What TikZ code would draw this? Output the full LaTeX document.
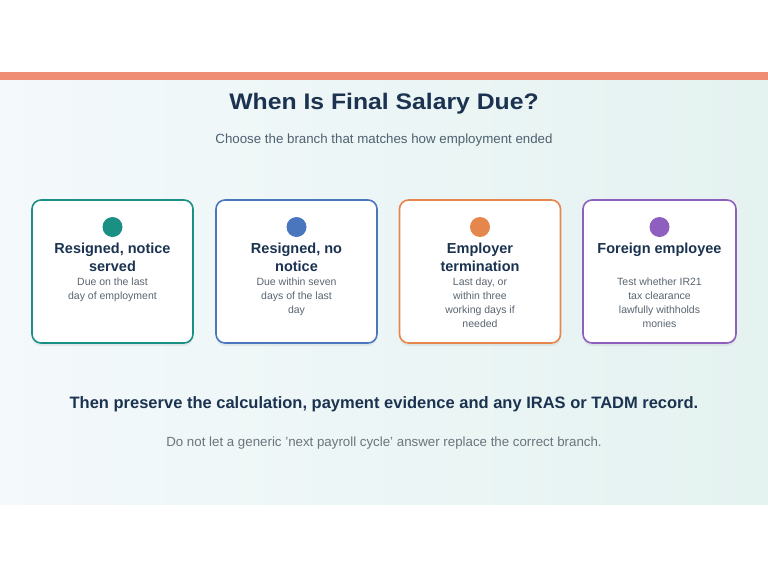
\documentclass[tikz,border=0pt]{standalone}
\usepackage{fontspec}
\setmainfont{Liberation Sans}
\usetikzlibrary{shadows}
\definecolor{navy}{HTML}{1B3350}
\definecolor{greytxt}{HTML}{5A6570}
\definecolor{subtxt}{HTML}{4E6170}
\definecolor{topbar}{HTML}{EE8C74}
\definecolor{cteal}{HTML}{1A8F84}
\definecolor{cblue}{HTML}{4A76BE}
\definecolor{corange}{HTML}{E5874C}
\definecolor{cpurple}{HTML}{8F5FBF}
\definecolor{bgA}{HTML}{F4F9FB}
\definecolor{bgB}{HTML}{E4F2F0}
\tikzset{
  card/.style={draw=#1, line width=1.6pt, rounded corners=9pt, fill=white,
    minimum width=161pt, minimum height=143pt, inner sep=0pt,
    drop shadow={shadow xshift=0pt, shadow yshift=-3pt, opacity=0.10, fill=black!60}},
  dot/.style={circle, fill=#1, minimum size=20pt, inner sep=0pt},
  ctitle/.style={align=center, text=navy, font=\fontsize{14.5}{18}\selectfont\bfseries, inner sep=0pt, anchor=north},
  cdesc/.style={align=center, text=greytxt, font=\fontsize{10.5}{13.8}\selectfont, inner sep=0pt, anchor=north},
}
\begin{document}
\begin{tikzpicture}[x=1pt,y=-1pt]
\useasboundingbox (0,0) rectangle (768,576);
\fill[white] (0,0) rectangle (768,576);
\shade[left color=bgA, right color=bgB] (0,80) rectangle (768,504);
\fill[topbar] (0,72) rectangle (768,80);
\node[text=navy, font=\fontsize{22.5}{26}\selectfont\bfseries, xscale=1.1, transform shape] (title) at (384,104) {When Is Final Salary Due?};
\node[text=subtxt, font=\fontsize{13.3}{16}\selectfont] (sub) at (384,140) {Choose the branch that matches how employment ended};
% cards
\node[card=cteal] (c1) at (112.5,271.5) {};
\node[card=cblue] (c2) at (296.5,271.5) {};
\node[card=corange] (c3) at (480,271.5) {};
\node[card=cpurple, minimum width=153pt] (c4) at (659.5,271.5) {};
\node[dot=cteal] (d1) at (112.5,227) {};
\node[dot=cblue] (d2) at (296.5,227) {};
\node[dot=corange] (d3) at (480,227) {};
\node[dot=cpurple] (d4) at (659.5,227) {};
\node[ctitle] (t1) at (112.5,243) {Resigned, notice\\served};
\node[ctitle] (t2) at (296.5,243) {Resigned, no\\notice};
\node[ctitle] (t3) at (480,243) {Employer\\termination};
\node[ctitle] (t4) at (659.5,243) {Foreign employee};
\node[cdesc] (e1) at (112.5,278) {Due on the last\\day of employment};
\node[cdesc] (e2) at (296.5,278) {Due within seven\\days of the last\\day};
\node[cdesc] (e3) at (480,278) {Last day, or\\within three\\working days if\\needed};
\node[cdesc] (e4) at (659.5,278) {Test whether IR21\\tax clearance\\lawfully withholds\\monies};
\node[text=navy, font=\fontsize{16.5}{19}\selectfont\bfseries] (then) at (384,404) {Then preserve the calculation, payment evidence and any IRAS or TADM record.};
\node[text=greytxt!90, font=\fontsize{13.3}{15}\selectfont] (note) at (384,443) {Do not let a generic 'next payroll cycle' answer replace the correct branch.};
\end{tikzpicture}
\end{document}
